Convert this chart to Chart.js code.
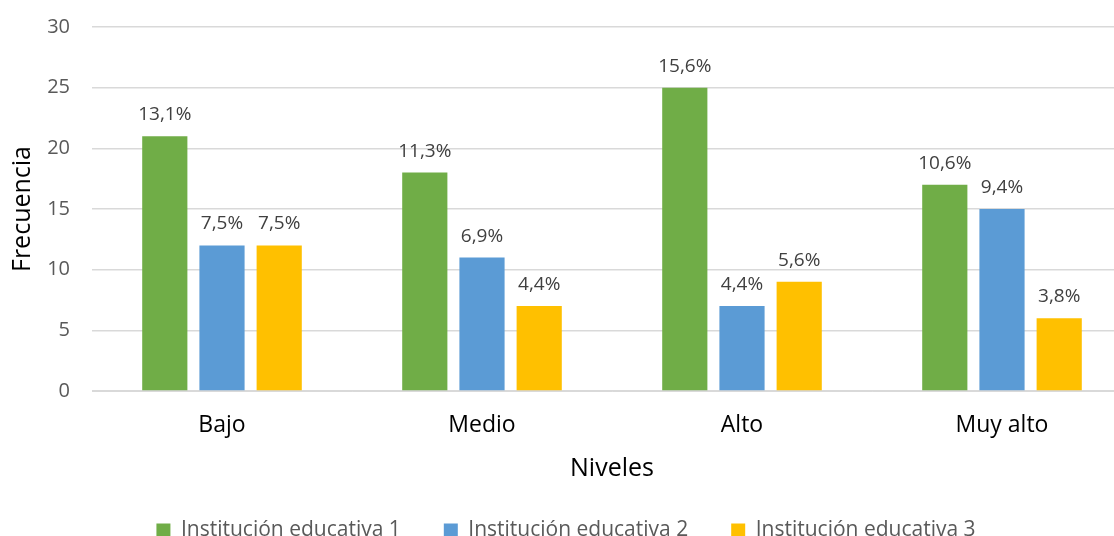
<!DOCTYPE html>
<html>
<head>
<meta charset="utf-8">
<script src="https://cdn.jsdelivr.net/npm/chart.js@4"></script>
<style>
    html, body { margin: 0; padding: 0; background: #fff; overflow: hidden; }
    #wrap { width: 1114px; height: 536px; overflow: hidden; position: relative; }
    #box { width: 1140px; height: 558px; position: absolute; left: 0; top: -7px; }
</style>
</head>
<body>
<div id="wrap"><div id="box"><canvas id="nivelesChart"></canvas></div></div>
<script>
// Datos
const niveles = ["Bajo", "Medio", "Alto", "Muy alto"];
const institucion1 = [21, 18, 25, 17];
const institucion2 = [12, 11, 7, 15];
const institucion3 = [12, 7, 9, 6];
const porcentaje1 = ["13,1%", "11,3%", "15,6%", "10,6%"];
const porcentaje2 = ["7,5%", "6,9%", "4,4%", "9,4%"];
const porcentaje3 = ["7,5%", "4,4%", "5,6%", "3,8%"];
const yTicks = [0, 5, 10, 15, 20, 25, 30];

const FONT = "'Open Sans', 'Noto Sans', sans-serif";

// etiquetas de porcentaje encima de cada barra
const etiquetas = {
    id: "etiquetas",
    afterDatasetsDraw(chart) {
        const ctx = chart.ctx;
        ctx.save();
        ctx.font = "19px " + FONT;
        ctx.fillStyle = "#404040";
        ctx.textAlign = "center";
        ctx.textBaseline = "alphabetic";
        chart.data.datasets.forEach((ds, i) => {
            const meta = chart.getDatasetMeta(i);
            meta.data.forEach((bar, j) => {
                ctx.fillText(ds.porcentajes[j], bar.x, bar.y - 16);
            });
        });
        ctx.restore();
    }
};

const ctx = document.getElementById("nivelesChart").getContext("2d");

new Chart(ctx, {
    type: "bar",
    data: {
        labels: niveles,
        datasets: [
            { label: "Institución educativa 1", data: institucion1, porcentajes: porcentaje1, backgroundColor: "#70AD47" },
            { label: "Institución educativa 2", data: institucion2, porcentajes: porcentaje2, backgroundColor: "#5B9BD5" },
            { label: "Institución educativa 3", data: institucion3, porcentajes: porcentaje3, backgroundColor: "#FFC000" }
        ]
    },
    options: {
        responsive: true,
        maintainAspectRatio: false,
        animation: false,
        categoryPercentage: 0.66,
        barPercentage: 0.79,
        layout: { padding: { top: 16, right: 8, left: 0, bottom: 0 } },
        scales: {
            x: {
                afterFit: (axis) => { axis.height = 86; },
                grid: { display: false, drawTicks: false },
                border: { color: "#d9d9d9" },
                ticks: { color: "#000", font: { family: FONT, size: 23 }, padding: 21 },
                title: { display: true, text: "Niveles", color: "#000", font: { family: FONT, size: 25 }, padding: { top: 0, bottom: -7 } }
            },
            y: {
                min: 0,
                max: 30,
                afterBuildTicks: (axis) => { axis.ticks = yTicks.map(v => ({ value: v })); },
                afterFit: (axis) => { axis.width = 92; },
                grid: { color: "#d9d9d9", lineWidth: 1.5, drawTicks: false },
                border: { display: false },
                ticks: { color: "#595959", font: { family: FONT, size: 20 }, padding: 22 },
                title: { display: true, text: "Frecuencia", color: "#000", font: { family: FONT, size: 25 }, padding: { top: 8, bottom: 0 } }
            }
        },
        plugins: {
            legend: {
                position: "bottom",
                labels: { color: "#595959", font: { family: FONT, size: 21 }, boxWidth: 14, boxHeight: 14, padding: 43 }
            },
            tooltip: { enabled: false }
        }
    },
    plugins: [etiquetas]
});
</script>
</body>
</html>
